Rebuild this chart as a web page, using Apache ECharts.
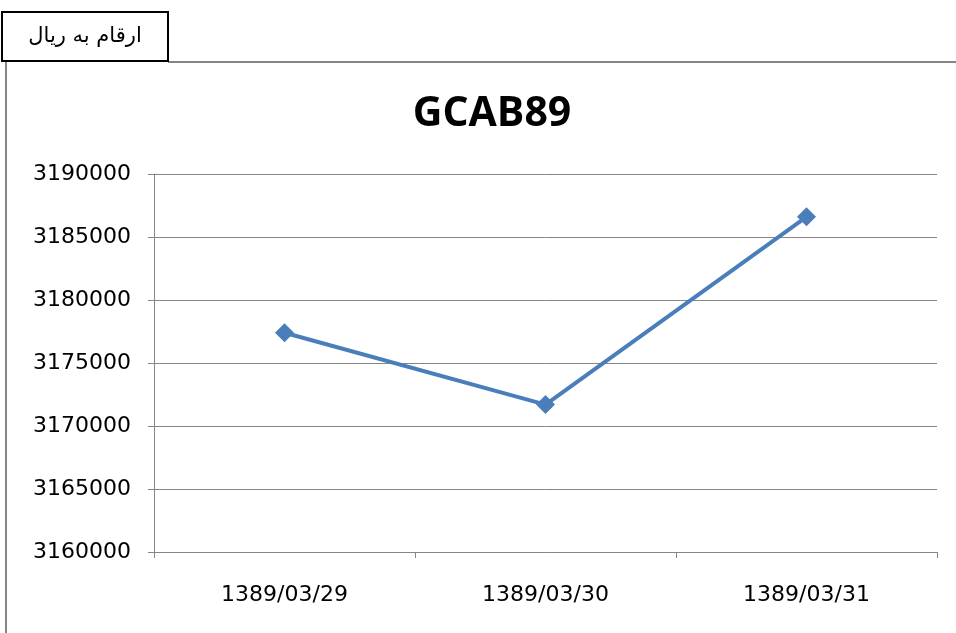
<!DOCTYPE html>
<html><head><meta charset="utf-8">
<script src="https://cdn.jsdelivr.net/npm/echarts@6/dist/echarts.min.js"></script>
<style>html,body{margin:0;padding:0;background:#fff}#c{width:956px;height:633px}</style>
</head><body><div id="c"></div>
<script>
const categories = ['1389/03/29', '1389/03/30', '1389/03/31'];
const values = [3177400, 3171700, 3186600];
const chartTitle = 'GCAB89';
const unitLabel = 'ارقام به ریال';

const chart = echarts.init(document.getElementById('c'), null, {renderer: 'canvas'});
chart.setOption({
  animation: false,
  backgroundColor: '#fff',
  title: {
    text: chartTitle, left: 487, top: 89, textAlign: 'center',
    textStyle: {fontFamily: 'Open Sans', fontWeight: 'bold', fontSize: 41, color: '#000'}
  },
  grid: {left: 154, right: 19, top: 174, bottom: 81},
  xAxis: {
    type: 'category', data: categories, boundaryGap: true,
    axisLine: {lineStyle: {color: '#868686', width: 1}},
    axisTick: {show: true, length: 6, inside: false, lineStyle: {color: '#868686'}},
    axisLabel: {margin: 32, fontFamily: 'DejaVu Sans', fontSize: 22, color: '#000'},
    splitLine: {show: false}
  },
  yAxis: {
    type: 'value', min: 3160000, max: 3190000, interval: 5000,
    axisLine: {show: true, lineStyle: {color: '#868686'}},
    axisTick: {show: true, length: 6, lineStyle: {color: '#868686'}},
    axisLabel: {margin: 23, fontFamily: 'DejaVu Sans', fontSize: 22, color: '#000',
      formatter: v => String(v)},
    splitLine: {lineStyle: {color: '#868686', width: 1}}
  },
  series: [{
    type: 'line', data: values,
    symbol: 'diamond', symbolSize: 19,
    lineStyle: {color: '#4a7ebb', width: 4},
    itemStyle: {color: '#4a7ebb'}
  }],
  graphic: [
    {type: 'line', shape: {x1: 6, y1: 62, x2: 6, y2: 633}, style: {stroke: '#868686', lineWidth: 2}},
    {type: 'line', shape: {x1: 168, y1: 62, x2: 956, y2: 62}, style: {stroke: '#868686', lineWidth: 2}},
    {type: 'rect', shape: {x: 2, y: 12, width: 166, height: 49}, style: {fill: '#fff', stroke: '#000', lineWidth: 2}},
    {type: 'text', x: 85, y: 37, style: {text: unitLabel, fontFamily: 'DejaVu Sans', fontSize: 21, fill: '#000', align: 'center', verticalAlign: 'middle'}}
  ]
});
</script></body></html>
